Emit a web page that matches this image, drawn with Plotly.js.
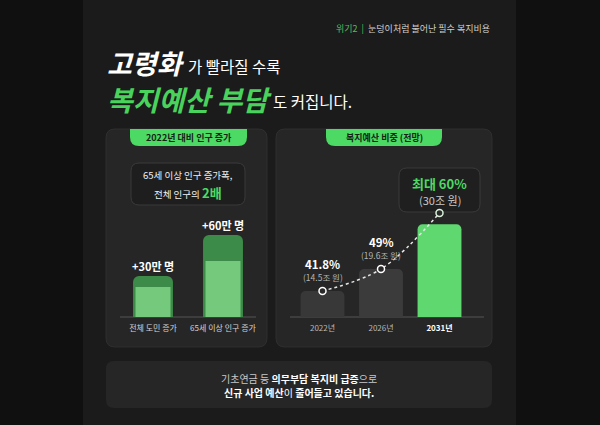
<!DOCTYPE html>
<html><head><meta charset="utf-8">
<script src="https://cdn.plot.ly/plotly-3.0.1.min.js"></script>
<style>html,body{margin:0;padding:0;background:#101010;}#chart{width:600px;height:425px;}</style>
</head><body><div id="chart"></div>
<script>
// ---- data ----
const popCategories = ['전체 도민 증가', '65세 이상 인구 증가'];
const popIncrease = [30, 60];          // 만 명
const popInner = [22, 41];             // inner highlight bars
const popLabels = ['+30만 명', '+60만 명'];
const years = ['2022년', '2026년', '2031년'];
const budgetTrillion = [14.5, 19.6, 30]; // 조 원
const welfareShare = [41.8, 49, 60];     // %
const curvePoints = [14.5, 19.6, 32.6];  // trend line markers

// ---- helpers ----
const W = 600, H = 425;
const PX = x => x / W, PY = y => 1 - y / H;
function rr(x0, y0, x1, y1, r) {
  const [tl, tr, br, bl] = Array.isArray(r) ? r : [r, r, r, r];
  const p = (x, y) => PX(x).toFixed(5) + ',' + PY(y).toFixed(5);
  return 'M' + p(x0 + tl, y0) + ' L' + p(x1 - tr, y0) + ' Q' + p(x1, y0) + ' ' + p(x1, y0 + tr) +
    ' L' + p(x1, y1 - br) + ' Q' + p(x1, y1) + ' ' + p(x1 - br, y1) +
    ' L' + p(x0 + bl, y1) + ' Q' + p(x0, y1) + ' ' + p(x0, y1 - bl) +
    ' L' + p(x0, y0 + tl) + ' Q' + p(x0, y0) + ' ' + p(x0 + tl, y0) + ' Z';
}
function box(x0, y0, x1, y1, r, fill, line) {
  return {type: 'path', xref: 'paper', yref: 'paper', layer: 'below', path: rr(x0, y0, x1, y1, r),
    fillcolor: fill, line: {color: line || fill, width: line ? 1 : 0}};
}
function txt(x, y, text, size, color, opts) {
  return Object.assign({xref: 'paper', yref: 'paper', x: PX(x), y: PY(y), text: text, showarrow: false,
    xanchor: 'center', yanchor: 'middle',
    font: {family: 'Noto Sans CJK KR', size: size, color: color}}, opts || {});
}
const GREEN = '#4cd964';
const FONT = 'Noto Sans CJK KR';

// ---- traces ----
const traces = [
  {type: 'bar', x: popCategories, y: popIncrease, xaxis: 'x', yaxis: 'y', width: 0.57,
    marker: {color: '#3d8b48', cornerradius: 6}, hoverinfo: 'skip'},
  {type: 'bar', x: popCategories, y: popInner, xaxis: 'x', yaxis: 'y', width: 0.5,
    marker: {color: '#74c97d', cornerradius: 6}, hoverinfo: 'skip'},
  {type: 'bar', x: years, y: budgetTrillion, xaxis: 'x2', yaxis: 'y2', width: 0.75,
    marker: {color: ['#383838', '#3b3b3b', '#5fd870'], cornerradius: 5}, hoverinfo: 'skip'},
  {type: 'scatter', mode: 'lines+markers', x: years, y: curvePoints, xaxis: 'x2', yaxis: 'y2',
    line: {shape: 'spline', dash: 'dot', color: '#e6e6e6', width: 1.5},
    marker: {size: 7, color: '#2a2a2a', line: {color: ['#ffffff', '#ffffff', '#d8f0da'], width: 1.5}},
    hoverinfo: 'skip', cliponaxis: false}
];

// ---- annotations ----
const ann = [];
// header
ann.push(txt(492, 28, '<span style="color:#4fbf5c">위기2  |</span>  눈덩이처럼 불어난 필수 복지비용', 9, '#cfcfcf', {xanchor: 'right'}));
ann.push(txt(105, 62, '<b>고령화</b>', 27, '#ffffff', {xanchor: 'left', font: {family: FONT, size: 27, color: '#ffffff', weight: 900, style: 'italic'}}));
ann.push(txt(186, 66, '가 빨라질 수록', 15.5, '#ffffff', {xanchor: 'left'}));
ann.push(txt(105, 99, '<b>복지예산 부담</b>', 28, GREEN, {xanchor: 'left', font: {family: FONT, size: 28, color: '#49d25c', weight: 900, style: 'italic'}}));
ann.push(txt(271, 101, '도 커집니다.', 15.5, '#ffffff', {xanchor: 'left'}));
// tabs
ann.push(txt(188.5, 137.5, '<b>2022년 대비 인구 증가</b>', 9, '#142414'));
ann.push(txt(384, 137.5, '<b>복지예산 비중 (전망)</b>', 9, '#142414'));
// left callout
ann.push(txt(188, 175, '65세 이상 인구 증가폭,', 9.5, '#f0f0f0'));
ann.push(txt(188, 192, '전체 인구의 <b><span style="color:' + GREEN + ';font-size:13px">2배</span></b>', 9.5, '#f0f0f0'));
// left bar labels
popLabels.forEach((t, i) => ann.push({xref: 'x', yref: 'y', x: popCategories[i], y: popIncrease[i], yshift: 10,
  yanchor: 'middle', showarrow: false, text: '<b>' + t + '</b>', font: {family: FONT, size: 11, color: '#ffffff'}}));
// right labels
for (let i = 0; i < 2; i++) {
  ann.push({xref: 'x2', yref: 'y2', x: years[i], y: curvePoints[i], yshift: 27.5, yanchor: 'middle', showarrow: false,
    text: '<b>' + welfareShare[i] + '%</b>', font: {family: FONT, size: 11.5, color: '#ffffff'}});
  ann.push({xref: 'x2', yref: 'y2', x: years[i], y: curvePoints[i], yshift: 14, yanchor: 'middle', showarrow: false,
    text: '(' + budgetTrillion[i] + '조 원)', font: {family: FONT, size: 8.5, color: '#b4b4b4'}});
}
ann.push(txt(439.5, 183, '<b>최대 ' + welfareShare[2] + '%</b>', 13, GREEN));
ann.push(txt(439.5, 200, '(' + budgetTrillion[2] + '조 원)', 11, '#c8c8c8'));
// bottom message
ann.push(txt(299, 378, '기초연금 등 <b><span style="color:#ffffff">의무부담 복지비 급증</span></b>으로', 10, '#c8c8c8'));
ann.push(txt(299, 392, '<b>신규 사업 예산</b>이 <b>줄어들고 있습니다.</b>', 10, '#ffffff'));

// ---- shapes ----
const shapes = [
  {type: 'rect', xref: 'paper', yref: 'paper', layer: 'below', x0: PX(83), x1: PX(516), y0: 0, y1: 1,
    fillcolor: '#1b1b1b', line: {width: 0}},
  box(106, 129, 267, 347, 9, '#262626', '#2f2f2f'),
  box(276, 129, 492, 347, 9, '#262626', '#2f2f2f'),
  box(130, 129, 247, 146, [0, 0, 9, 9], GREEN),
  box(326, 129, 442, 146, [0, 0, 9, 9], GREEN),
  box(131, 163, 245, 205, 8, '#1e1e1e', '#3a3a3a'),
  box(399, 168, 480, 212, 8, '#1f1f1f', '#3a3a3a'),
  box(106, 361, 492, 408, 8, '#262626'),
  {type: 'line', xref: 'paper', yref: 'paper', layer: 'below', x0: PX(120), x1: PX(256), y0: PY(317), y1: PY(317),
    line: {color: '#555555', width: 1.2}},
  {type: 'line', xref: 'paper', yref: 'paper', layer: 'below', x0: PX(290), x1: PX(484), y0: PY(317), y1: PY(317),
    line: {color: '#555555', width: 1.2}}
];

const axBase = {showgrid: false, zeroline: false, showline: false, ticks: '', fixedrange: true};
const layout = {
  width: 600, height: 425, margin: {l: 0, r: 0, t: 0, b: 0},
  paper_bgcolor: '#101010', plot_bgcolor: 'rgba(0,0,0,0)',
  font: {family: FONT, color: '#ffffff'},
  showlegend: false, barmode: 'overlay', hovermode: false,
  xaxis: Object.assign({}, axBase, {domain: [PX(118), PX(258)], anchor: 'y', type: 'category', range: [-0.5, 1.5],
    tickfont: {family: FONT, size: 8, color: '#d4d4d4'}, ticklabelstandoff: 5}),
  yaxis: Object.assign({}, axBase, {domain: [PY(317), PY(200)], anchor: 'x', range: [0, 85.6], showticklabels: false}),
  xaxis2: Object.assign({}, axBase, {domain: [PX(293.25), PX(468.75)], anchor: 'y2', type: 'category', range: [-0.5, 2.5],
    tickvals: years, ticktext: years.map((y, i) => i === years.length - 1 ? '<b><span style="color:#ffffff">' + y + '</span></b>' : y),
    tickfont: {family: FONT, size: 8, color: '#b8b8b8'}, ticklabelstandoff: 5}),
  yaxis2: Object.assign({}, axBase, {domain: [PY(317), PY(160)], anchor: 'x2', range: [8.47, 44.9], showticklabels: false}),
  shapes: shapes, annotations: ann
};
Plotly.newPlot('chart', traces, layout, {staticPlot: true, displayModeBar: false});
</script></body></html>
